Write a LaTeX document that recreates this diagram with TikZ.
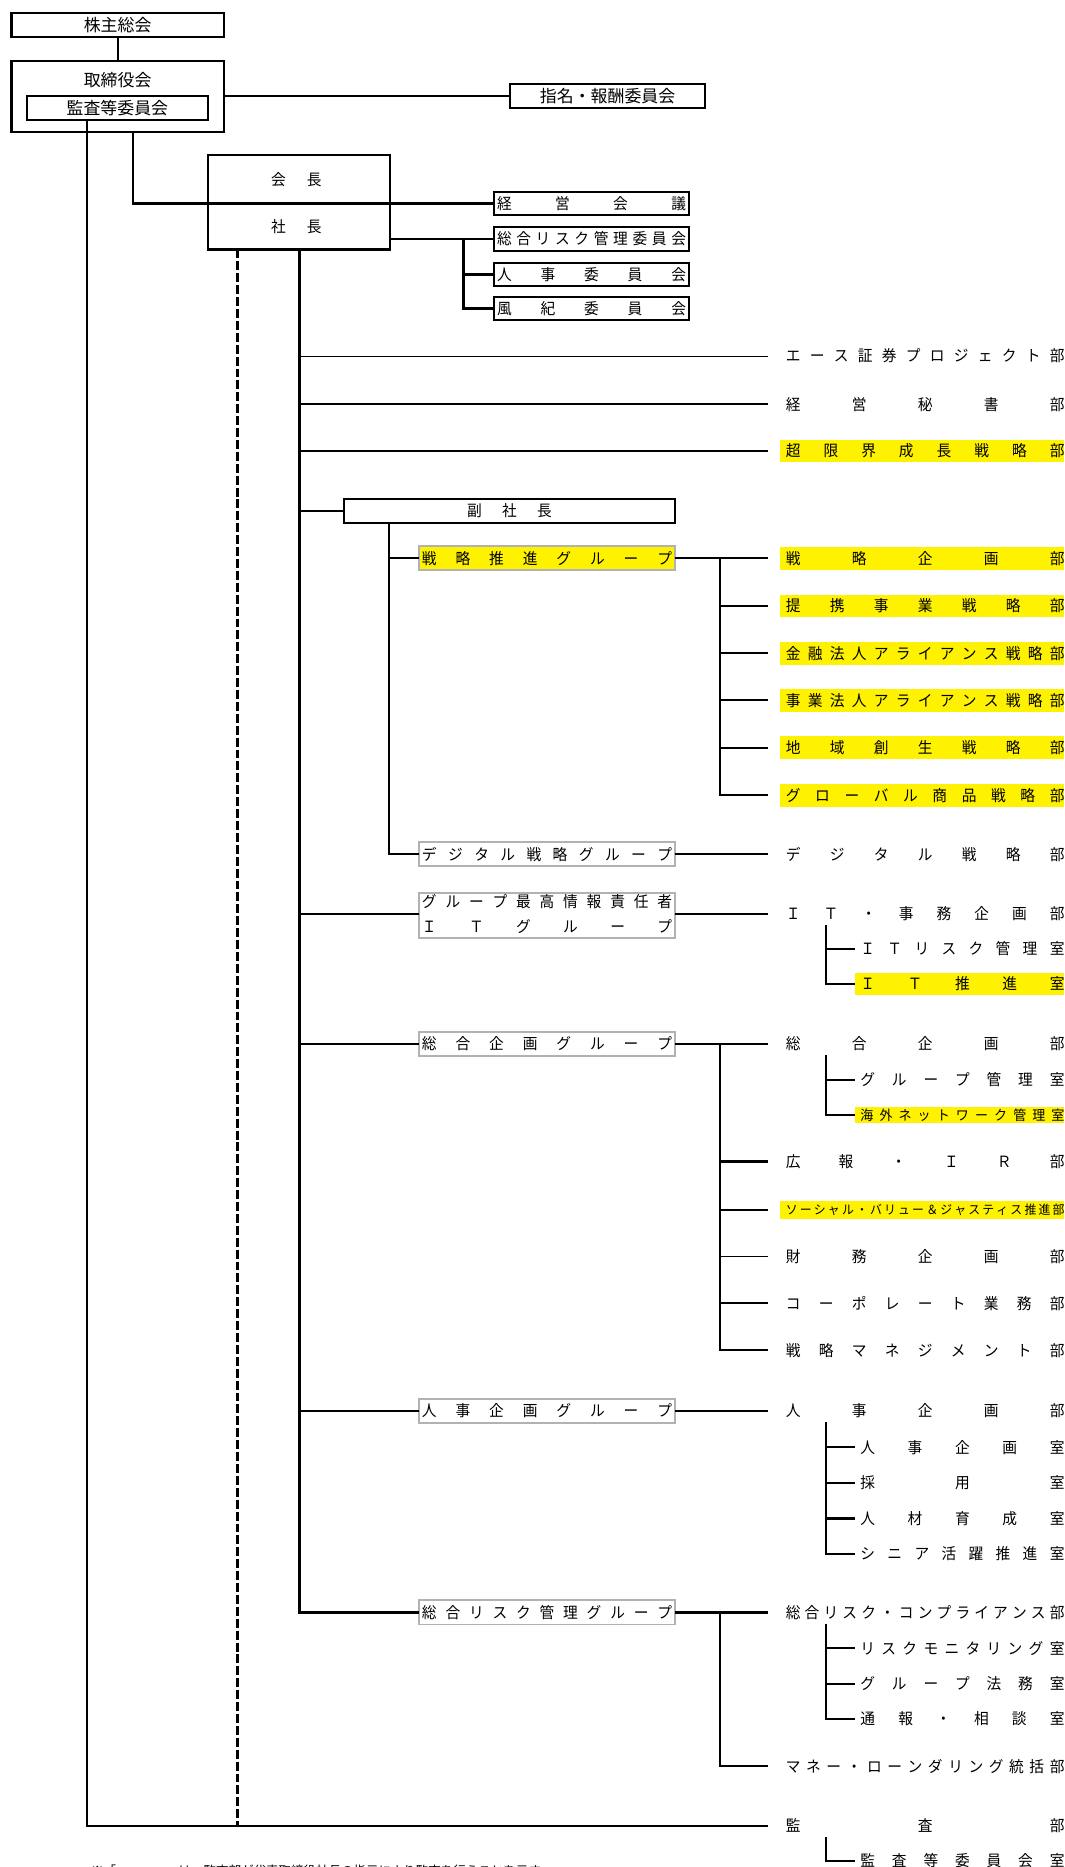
\documentclass[tikz,border=0pt]{standalone}
\usepackage{fontspec}
\newfontfamily\jp{Noto Sans CJK JP}
\newfontfamily\jpn[FakeStretch=0.95]{Noto Sans CJK JP}
\newcommand\fs[1]{\fontsize{#1}{#1}\selectfont}
\makeatletter
\def\spr@first#1{#1\spr@rest}
\def\spr@rest#1{\ifx\relax#1\else\hfill#1\expandafter\spr@rest\fi}
\newcommand\spreadto[2]{\hbox to #1{\spr@first#2\relax}}
\newcommand\dept[1]{\hbox to 238.6pt{\hskip4.6pt\relax\spr@first#1\relax}}
\newcommand\subr[1]{\hbox to 176pt{\hskip4.6pt\relax\spr@first#1\relax}}
\newcommand\grpt[1]{\hbox to 215.6pt{\hskip2.8pt\relax\spr@first#1\relax\hskip2.8pt\relax}}
\newcommand\comt[1]{\hbox to 163.9pt{\hskip2.6pt\relax\spr@first#1\relax\hskip2.6pt\relax}}
\makeatother
\definecolor{gb}{RGB}{178,178,178}
\tikzset{
  base/.style={inner sep=0pt, outer sep=0pt},
  bigtxt/.style={base, font=\jp\fs{14.2}, text height=12.5pt, text depth=1.7pt},
  topbox/.style={bigtxt, draw, line width=1.8pt, fill=white},
  plainbox/.style={base, draw, line width=1.8pt},
  midtxt/.style={base, font=\jpn\fs{13}, text height=11.4pt, text depth=1.6pt},
  combox/.style={midtxt, draw, line width=1.8pt, minimum width=163.9pt, minimum height=19.6pt},
  grpbox/.style={midtxt, draw=gb, line width=1.5pt, minimum width=215.6pt, minimum height=20.4pt, fill=white},
  dept/.style={midtxt, anchor=west, minimum height=19pt},
  subroom/.style={midtxt, anchor=west, minimum height=19pt},
  hl/.style={fill=yellow},
  smallA/.style={font=\jpn\fs{10.5}, text height=9.2pt, text depth=1.3pt, minimum height=14.8pt},
  smallB/.style={font=\jpn\fs{11.5}, text height=10.1pt, text depth=1.4pt, minimum height=14pt},
  thinline/.style={line width=1pt},
  dashline/.style={line width=1.8pt, dash pattern=on 7.5pt off 2.5pt},
}
\begin{document}
\begin{tikzpicture}[x=1pt, y=-1pt, line width=1.8pt]
\useasboundingbox (0,0) rectangle (894,1568);
\fill[white] (0,0) rectangle (894,1568);

% x positions of vertical lines
\coordinate (xKansa) at (73.3,0);
\coordinate (xTori) at (111.9,0);
\coordinate (xDash) at (199.5,0);
\coordinate (xTrunk) at (251.5,0);
\coordinate (xFuku) at (326.9,0);
\coordinate (xCom) at (389.3,0);
\coordinate (xBr) at (605,0);
\coordinate (xEnd) at (645,0);
\coordinate (xSub) at (694,0);

% ---------- top ----------
\node[topbox, minimum width=178.2pt, minimum height=19.6pt] (kabu) at (98.8,21) {株主総会};
\node[plainbox, minimum width=178.2pt, minimum height=59.9pt] (tori) at (98.8,81.25) {};
\node[bigtxt] (toritxt) at (98.8,67.2) {取締役会};
\node[topbox, minimum width=152.4pt, minimum height=20.4pt] (kansa) at (98.6,90.6) {監査等委員会};
\node[topbox, minimum width=164pt, minimum height=19.6pt] (shimei) at (510.3,80.7) {指名・報酬委員会};

\node[plainbox, minimum width=152.4pt, minimum height=79.3pt] (pres) at (251,169.85) {};
\node[midtxt] (kaicho) at (248.8,151.2) {\spreadto{42.4pt}{会長}};
\node[midtxt] (shacho) at (248.8,190.5) {\spreadto{42.4pt}{社長}};

\node[combox] (keiei) at (496.75,170.9) {\comt{経営会議}};
\node[combox, minimum height=20pt] (riskc) at (496.75,200.5) {\comt{総合リスク管理委員会}};
\node[combox] (jinjic) at (496.75,230.5) {\comt{人事委員会}};
\node[combox] (fuuki) at (496.75,259.1) {\comt{風紀委員会}};

\draw (kabu.south) -- (tori.north);
\draw (tori.east |- shimei.west) -- (shimei.west);
\draw (tori.south -| xTori) |- (keiei.west);
\draw (pres.east |- riskc.west) -- (riskc.west);
\draw (xCom |- riskc.west) |- (fuuki.west);
\draw (xCom |- jinjic.west) -- (jinjic.west);

% ---------- departments directly under president ----------
\node[dept] (d1) at (655.4,299.1) {\dept{エース証券プロジェクト部}};
\node[dept] (d2) at (655.4,339.5) {\dept{経営秘書部}};
\node[dept, hl] (d3) at (655.4,378.9) {\dept{超限界成長戦略部}};
\draw[thinline] (xTrunk |- d1.west) -- (xEnd |- d1.west);
\draw (xTrunk |- d2.west) -- (xEnd |- d2.west);
\draw (xTrunk |- d3.west) -- (xEnd |- d3.west);

% ---------- vice president ----------
\node[base, draw, line width=1.8pt, minimum width=278.6pt, minimum height=20.4pt, midtxt] (fuku) at (427.9,429) {\spreadto{71pt}{副社長}};
\draw (xTrunk |- fuku.west) -- (fuku.west);

\node[grpbox, hl] (gStrat) at (459.4,468.8) {\grpt{戦略推進グループ}};
\node[grpbox] (gDig) at (459.4,717.4) {\grpt{デジタル戦略グループ}};
\draw (fuku.south -| xFuku) |- (gDig.west);
\draw (xFuku |- gStrat.west) -- (gStrat.west);

\node[dept, hl] (d4) at (655.4,468.8) {\dept{戦略企画部}};
\node[dept, hl] (d5) at (655.4,508.9) {\dept{提携事業戦略部}};
\node[dept, hl] (d6) at (655.4,548.7) {\dept{金融法人アライアンス戦略部}};
\node[dept, hl] (d7) at (655.4,588.2) {\dept{事業法人アライアンス戦略部}};
\node[dept, hl] (d8) at (655.4,627.9) {\dept{地域創生戦略部}};
\node[dept, hl] (d9) at (655.4,668) {\dept{グローバル商品戦略部}};
\draw (gStrat.east) -- (xEnd |- gStrat.east);
\draw (xBr |- gStrat.east) |- (xEnd |- d9.west);
\foreach \n in {d5,d6,d7,d8} {\draw (xBr |- \n.west) -- (xEnd |- \n.west);}

\node[dept] (d10) at (655.4,717.4) {\dept{デジタル戦略部}};
\draw (gDig.east) -- (xEnd |- gDig.east);

% ---------- IT group ----------
\node[grpbox, minimum height=37.6pt] (gIT) at (459.4,768.8) {};
\node[midtxt] (gITa) at (459.4,757.6) {\grpt{グループ最高情報責任者}};
\node[midtxt] (gITb) at (459.4,778.6) {\grpt{ＩＴグループ}};
\node[dept] (d11) at (655.4,767.4) {\dept{ＩＴ・事務企画部}};
\node[subroom] (s1) at (718,797) {\subr{ＩＴリスク管理室}};
\node[subroom, hl] (s2) at (718,826.5) {\subr{ＩＴ推進室}};
\draw (xTrunk |- d11.west) -- (gIT.west |- d11.west);
\draw (gIT.east |- d11.west) -- (xEnd |- d11.west);
\draw (xSub |- d11.south) |- (s2.west);
\draw (xSub |- s1.west) -- (s1.west);

% ---------- planning group ----------
\node[grpbox] (gPlan) at (459.4,876.6) {\grpt{総合企画グループ}};
\node[dept] (d12) at (655.4,876.6) {\dept{総合企画部}};
\node[subroom] (s3) at (718,907) {\subr{グループ管理室}};
\node[subroom, hl, smallB] (s4) at (718,936.5) {\subr{海外ネットワーク管理室}};
\node[dept] (d13) at (655.4,975.5) {\dept{広報・ＩＲ部}};
\node[dept, hl, smallA] (d14) at (655.4,1016) {\dept{ソーシャル・バリュー＆ジャスティス推進部}};
\node[dept] (d15) at (655.4,1055) {\dept{財務企画部}};
\node[dept] (d16) at (655.4,1094.5) {\dept{コーポレート業務部}};
\node[dept] (d17) at (655.4,1134) {\dept{戦略マネジメント部}};
\draw (xTrunk |- gPlan.west) -- (gPlan.west);
\draw (gPlan.east) -- (xEnd |- gPlan.east);
\draw (xBr |- gPlan.east) |- (xEnd |- d17.west);
\foreach \n in {d13,d14,d16} {\draw (xBr |- \n.west) -- (xEnd |- \n.west);}
\draw[thinline] (xBr |- d15.west) -- (xEnd |- d15.west);
\draw (xSub |- d12.south) |- (s4.west);
\draw (xSub |- s3.west) -- (s3.west);

% ---------- HR group ----------
\node[grpbox] (gHR) at (459.4,1185) {\grpt{人事企画グループ}};
\node[dept] (d18) at (655.4,1185) {\dept{人事企画部}};
\node[subroom] (s5) at (718,1215.5) {\subr{人事企画室}};
\node[subroom] (s6) at (718,1245.5) {\subr{採用室}};
\node[subroom] (s7) at (718,1275.3) {\subr{人材育成室}};
\node[subroom] (s8) at (718,1305) {\subr{シニア活躍推進室}};
\draw[thinline] (xTrunk |- gHR.west) -- (gHR.west);
\draw[thinline] (gHR.east) -- (xEnd |- gHR.east);
\draw (xSub |- d18.south) |- (s8.west);
\draw (xSub |- s5.west) -- (s5.west);
\draw[thinline] (xSub |- s6.west) -- (s6.west);
\draw (xSub |- s7.west) -- (s7.west);

% ---------- risk group ----------
\node[grpbox] (gRisk) at (459.4,1354.2) {\grpt{総合リスク管理グループ}};
\node[dept] (d19) at (655.4,1354.2) {\dept{総合リスク・コンプライアンス部}};
\node[subroom] (s9) at (718,1384.4) {\subr{リスクモニタリング室}};
\node[subroom] (s10) at (718,1414.2) {\subr{グループ法務室}};
\node[subroom] (s11) at (718,1443.6) {\subr{通報・相談室}};
\node[dept] (d20) at (655.4,1483.5) {\dept{マネー・ローンダリング統括部}};
\draw (pres.south -| xTrunk) |- (gRisk.west);
\draw (gRisk.east) -- (xEnd |- gRisk.east);
\draw (xBr |- gRisk.east) |- (xEnd |- d20.west);
\draw (xSub |- d19.south) |- (s11.west);
\draw (xSub |- s9.west) -- (s9.west);
\draw (xSub |- s10.west) -- (s10.west);

% ---------- audit ----------
\node[dept] (d21) at (655.4,1533.4) {\dept{監査部}};
\node[subroom] (s12) at (718,1563) {\subr{監査等委員会室}};
\draw (kansa.south -| xKansa) |- (xEnd |- d21.west);
\draw[dashline] (pres.south -| xDash) -- (xDash |- d21.west);
\draw (xSub |- d21.south) |- (s12.west);

% ---------- note (cut off at the bottom, as in the reference) ----------
\node[base, anchor=base west, font=\jp\fs{10.5}] (note) at (76.5,1575.5) {※「\hbox to 42pt{\hfil}」は、監査部が代表取締役社長の指示により監査を行うことを示す};
\end{tikzpicture}
\end{document}
